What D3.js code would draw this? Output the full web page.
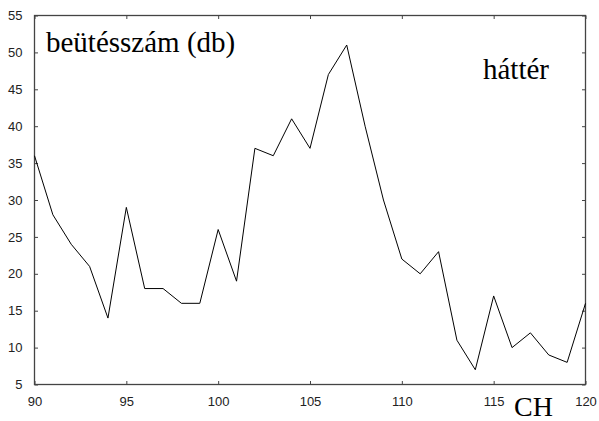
<!DOCTYPE html>
<html>
<head>
<meta charset="utf-8">
<script src="https://cdn.jsdelivr.net/npm/d3@7"></script>
<style>
  html, body { margin: 0; padding: 0; background: #fff; }
  svg { display: block; }
</style>
</head>
<body>
<svg id="chart" width="599" height="421"></svg>
<script>
// Channel numbers and background counts per channel
const channels = [90, 91, 92, 93, 94, 95, 96, 97, 98, 99, 100, 101, 102, 103, 104, 105,
                  106, 107, 108, 109, 110, 111, 112, 113, 114, 115, 116, 117, 118, 119, 120];
const counts = [36, 28, 24, 21, 14, 29, 18, 18, 16, 16, 26, 19, 37, 36, 41, 37,
                47, 51, 40, 30, 22, 20, 23, 11, 7, 17, 10, 12, 9, 8, 16];
const xTicks = [90, 95, 100, 105, 110, 115, 120];
const yTicks = [5, 10, 15, 20, 25, 30, 35, 40, 45, 50, 55];

const svg = d3.select("#chart");
const plotLeft = 34.5, plotRight = 585.5, plotTop = 15.5, plotBottom = 384.5;

const x = d3.scaleLinear().domain([90, 120]).range([plotLeft, plotRight]);
const y = d3.scaleLinear().domain([5, 55]).range([plotBottom, plotTop]);

const axisColor = "#444";
const tickLen = 3.5;

// frame
svg.append("rect")
  .attr("x", plotLeft).attr("y", plotTop)
  .attr("width", plotRight - plotLeft).attr("height", plotBottom - plotTop)
  .attr("fill", "none").attr("stroke", axisColor).attr("stroke-width", 1.3);

// inward ticks on all four sides
const styleAxis = g => {
  g.select(".domain").remove();
  g.selectAll(".tick line").attr("stroke", axisColor);
  g.selectAll(".tick text")
    .attr("fill", "#222")
    .style("font-family", "'Liberation Sans', Arial, sans-serif")
    .style("font-size", "13px");
};

svg.append("g").attr("transform", `translate(0,${plotBottom})`)
  .call(d3.axisBottom(x).tickValues(xTicks).tickFormat(d3.format("d"))
    .tickSizeInner(-tickLen).tickSizeOuter(0).tickPadding(12))
  .call(styleAxis);

svg.append("g").attr("transform", `translate(0,${plotTop})`)
  .call(d3.axisTop(x).tickValues(xTicks).tickFormat("")
    .tickSizeInner(-tickLen).tickSizeOuter(0))
  .call(styleAxis);

svg.append("g").attr("transform", `translate(${plotLeft},0)`)
  .call(d3.axisLeft(y).tickValues(yTicks).tickFormat(d3.format("d"))
    .tickSizeInner(-tickLen).tickSizeOuter(0).tickPadding(12))
  .call(styleAxis);

svg.append("g").attr("transform", `translate(${plotRight},0)`)
  .call(d3.axisRight(y).tickValues(yTicks).tickFormat("")
    .tickSizeInner(-tickLen).tickSizeOuter(0))
  .call(styleAxis);

// count curve
const line = d3.line()
  .x((d, i) => x(channels[i]))
  .y(d => y(d));

svg.append("path")
  .datum(counts)
  .attr("d", line)
  .attr("fill", "none")
  .attr("stroke", "#000")
  .attr("stroke-width", 1)
  .attr("stroke-linejoin", "miter");

// labels
const serif = "'Liberation Serif', 'Times New Roman', serif";
svg.append("text").attr("x", 46).attr("y", 52)
  .style("font-family", serif).style("font-size", "29px")
  .text("beütésszám (db)");
svg.append("text").attr("x", 483).attr("y", 79)
  .style("font-family", serif).style("font-size", "29px")
  .text("háttér");
svg.append("text").attr("x", 514).attr("y", 416)
  .style("font-family", serif).style("font-size", "28px")
  .text("CH");
</script>
</body>
</html>
